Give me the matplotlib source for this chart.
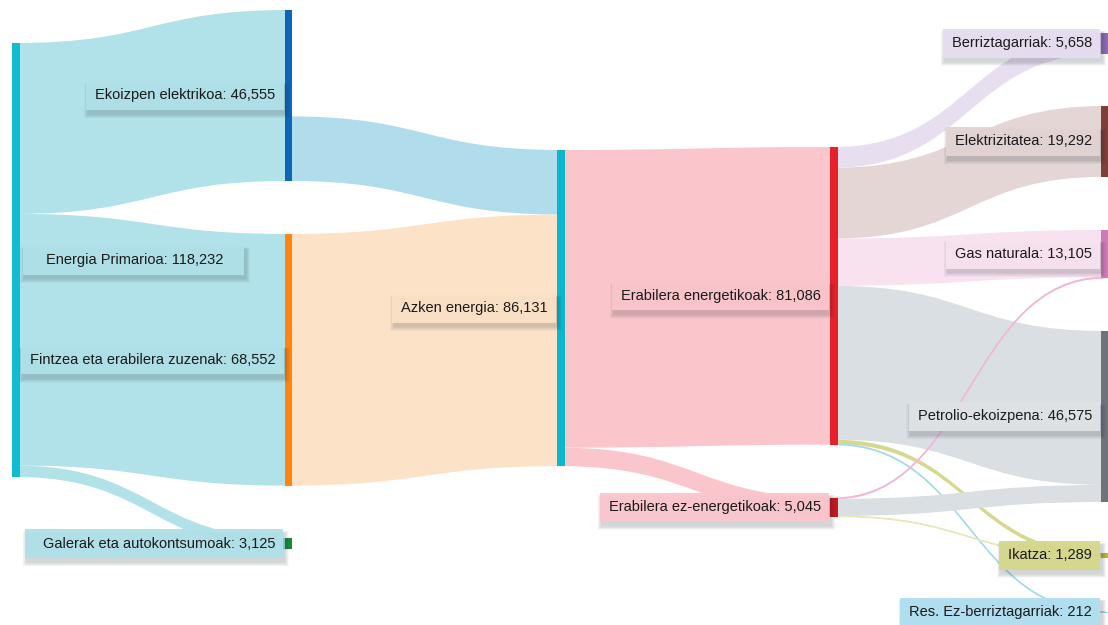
import numpy as np
import matplotlib.pyplot as plt
from matplotlib.patches import Rectangle, PathPatch
from matplotlib.path import Path

# nodes
node_names = ['Energia Primarioa', 'Ekoizpen elektrikoa', 'Fintzea eta erabilera zuzenak',
              'Galerak eta autokontsumoak', 'Azken energia', 'Erabilera energetikoak',
              'Erabilera ez-energetikoak', 'Berriztagarriak', 'Elektrizitatea', 'Gas naturala',
              'Petrolio-ekoizpena', 'Ikatza', 'Res. Ez-berriztagarriak']
node_values = [118232, 46555, 68552, 3125, 86131, 81086, 5045, 5658, 19292, 13105, 46575, 1289, 212]

# links (source index, target index, value)
link_src = [0, 0, 0, 1, 2, 4, 4, 5, 5, 5, 5, 5, 5, 6, 6, 6]
link_tgt = [1, 2, 3, 4, 4, 5, 6, 7, 8, 9, 10, 11, 12, 9, 10, 11]
link_val = [46555, 68552, 3125, 17579, 68552, 81086, 5045,
            5658, 19292, 12855, 41930, 1139, 212, 250, 4645, 150]

# layout (pixels)
node_col = [0, 1, 1, 1, 2, 3, 3, 4, 4, 4, 4, 4, 4]
node_top = [43, 10, 234, 538, 150, 147, 498, 33, 106, 230, 331, 553, 611.5]
col_x = [12, 284.5, 557, 830, 1101]
node_w = 7.5
px_per_unit = 434 / 118232

node_colors = ['#0fbcd2', '#0d66b8', '#ff8410', '#16883a', '#0cb6cf', '#e8202a', '#c41a1f',
               '#8d6bb3', '#7d3f38', '#d07ab8', '#6f7379', '#b5b735', '#9fd4e2']
label_colors = ['#b0e0e8', '#b0e0e8', '#b0e0e8', '#b0e0e8', '#fbe2c7', '#fac6cc', '#fac6cc',
                '#e6def0', '#e2d4d2', '#f8e2f0', '#dfe3e6', '#d6d88c', '#b0dff0']
link_colors = ['#b1e1e9', '#b1e1e9', '#b1e1e9', '#b0dcec', '#fce3c8', '#fbc5cc', '#fbc5cc',
               '#e7dff0', '#e3d6d4', '#f8e2f0', '#dadfe3', '#d5d88e', '#a8dbe8',
               '#f2b6d8', '#dadfe3', '#e6e8bb']
label_pad = {0: (23, 21), 3: (18, 7)}

fig = plt.figure(figsize=(11.08, 6.25), dpi=100)
ax = fig.add_axes([0, 0, 1, 1])
ax.set_xlim(0, 1108)
ax.set_ylim(625, 0)
ax.axis('off')

n = len(node_names)
node_h = [v * px_per_unit for v in node_values]
node_x = [col_x[c] for c in node_col]

# stack outgoing links (bottom aligned if node has leftover) and incoming links
out_pos = {}
in_pos = {}
for i in range(n):
    outs = sorted([k for k in range(len(link_src)) if link_src[k] == i], key=lambda k: node_top[link_tgt[k]])
    tot = sum(link_val[k] for k in outs)
    y = node_top[i] + (node_values[i] - tot) * px_per_unit
    for k in outs:
        h = link_val[k] * px_per_unit
        out_pos[k] = (y, y + h)
        y += h
    ins = sorted([k for k in range(len(link_src)) if link_tgt[k] == i], key=lambda k: node_top[link_src[k]])
    y = node_top[i]
    for k in ins:
        h = link_val[k] * px_per_unit
        in_pos[k] = (y, y + h)
        y += h

for k in range(len(link_src)):
    s, t = link_src[k], link_tgt[k]
    x0 = node_x[s] + node_w / 2
    x1 = node_x[t] + node_w / 2
    xm = (x0 + x1) / 2
    s0, s1 = out_pos[k]
    t0, t1 = in_pos[k]
    verts = [(x0, s0), (xm, s0), (xm, t0), (x1, t0), (x1, t1), (xm, t1), (xm, s1), (x0, s1), (x0, s0)]
    codes = [Path.MOVETO, Path.CURVE4, Path.CURVE4, Path.CURVE4, Path.LINETO,
             Path.CURVE4, Path.CURVE4, Path.CURVE4, Path.CLOSEPOLY]
    lw = 0.8 if link_val[k] < 400 else 0
    ax.add_patch(PathPatch(Path(verts, codes), fc=link_colors[k], ec=link_colors[k], lw=lw, zorder=1))

for i in range(n):
    ax.add_patch(Rectangle((node_x[i], node_top[i]), node_w, max(node_h[i], 1.2),
                           fc=node_colors[i], ec='none', zorder=5))

# labels with boxes and soft shadows
texts = []
for i in range(n):
    yc = node_top[i] + max(node_h[i], 1.2) / 2
    s = f"{node_names[i]}: {node_values[i]:,}"
    if node_col[i] == 0:
        t = ax.text(node_x[i] + node_w + 26, yc, s, ha='left', va='center',
                    fontsize=10.5, family='Liberation Sans', color='#1a1a1a', zorder=12)
    else:
        t = ax.text(node_x[i] - 9, yc, s, ha='right', va='center',
                    fontsize=10.5, family='Liberation Sans', color='#1a1a1a', zorder=12)
    texts.append(t)

fig.canvas.draw()
renderer = fig.canvas.get_renderer()
inv = ax.transData.inverted()
for i, t in enumerate(texts):
    bb = t.get_window_extent(renderer)
    (bx0, by1), (bx1, by0) = inv.transform([[bb.x0, bb.y0], [bb.x1, bb.y1]])
    pl, pr = label_pad.get(i, (9, 8))
    yc = (by0 + by1) / 2
    rx0, rx1 = bx0 - pl, bx1 + pr
    ry0, ry1 = yc - 14.5, yc + 14.5
    # soft drop shadow built from stacked translucent rectangles
    for g in range(7, 0, -1):
        ax.add_patch(Rectangle((rx0 + 2 - g * 0.6, ry0 + 4 - g * 0.3), rx1 - rx0 + g * 1.2,
                               ry1 - ry0 + g * 0.9, fc='#1c2630', ec='none', alpha=0.028, zorder=9))
    ax.add_patch(Rectangle((rx0, ry0), rx1 - rx0, ry1 - ry0, fc=label_colors[i], ec='none',
                           alpha=0.96, zorder=10))

fig.savefig('out.png', dpi=100, facecolor='white')
